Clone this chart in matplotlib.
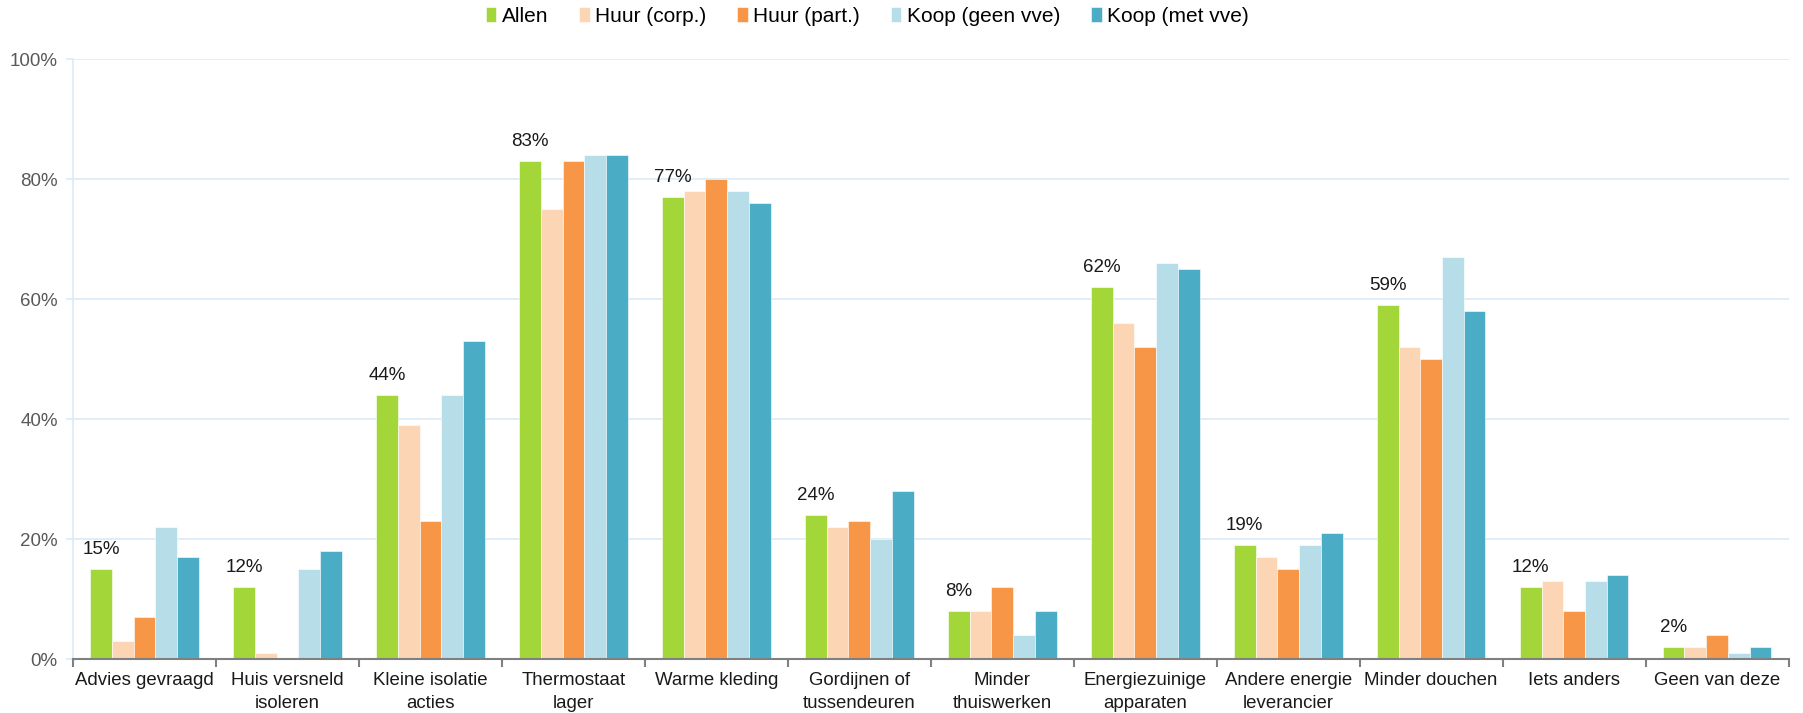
import matplotlib
matplotlib.use("Agg")
import matplotlib.pyplot as plt
import numpy as np

plt.rcParams['font.family'] = ['Liberation Sans', 'DejaVu Sans']

categories = ["Advies gevraagd", "Huis versneld\nisoleren", "Kleine isolatie\nacties",
              "Thermostaat\nlager", "Warme kleding", "Gordijnen of\ntussendeuren",
              "Minder\nthuiswerken", "Energiezuinige\napparaten", "Andere energie\nleverancier",
              "Minder douchen", "Iets anders", "Geen van deze"]
series_names = ["Allen", "Huur (corp.)", "Huur (part.)", "Koop (geen vve)", "Koop (met vve)"]
allen = [15, 12, 44, 83, 77, 24, 8, 62, 19, 59, 12, 2]
huur_corp = [3, 1, 39, 75, 78, 22, 8, 56, 17, 52, 13, 2]
huur_part = [7, 0, 23, 83, 80, 23, 12, 52, 15, 50, 8, 4]
koop_geen = [22, 15, 44, 84, 78, 20, 4, 66, 19, 67, 13, 1]
koop_met = [17, 18, 53, 84, 76, 28, 8, 65, 21, 58, 14, 2]
yticks = [0, 20, 40, 60, 80, 100]
ytick_labels = ["0%", "20%", "40%", "60%", "80%", "100%"]

colors = ["#A2D639", "#FCD5B5", "#F79646", "#B7DEE8", "#4BACC6"]
series = [allen, huur_corp, huur_part, koop_geen, koop_met]

fig = plt.figure(figsize=(18.03, 7.13), dpi=100)
ax = fig.add_axes([0.0405, 0.0757, 0.9515, 0.8415])

x = np.arange(len(categories))
w = 0.152
for i, (vals, c, name) in enumerate(zip(series, colors, series_names)):
    ax.bar(x + (i - 2) * w, vals, width=w, color=c, label=name, zorder=3,
           edgecolor='white', linewidth=0.4)

for xi, v in zip(x, allen):
    ax.annotate(f"{v}%", (xi - 2 * w, v), xytext=(0, 8), textcoords='offset points',
                ha='center', va='bottom', fontsize=13.5, color='#1a1a1a')

ax.set_xlim(-0.5, len(categories) - 0.5)
ax.set_ylim(0, 100)
ax.set_yticks(yticks)
ax.set_yticklabels(ytick_labels, fontsize=13.5, color='#595959')
ax.yaxis.grid(True, color='#DCEAF6', linewidth=1.2, zorder=0)
ax.set_axisbelow(True)

ax.set_xticks(x)
ax.set_xticklabels(categories, fontsize=13.4, color='#1a1a1a', linespacing=1.5)
ax.set_xticks(np.arange(-0.5, len(categories), 1.0), minor=True)
ax.tick_params(axis='x', which='major', length=0, pad=9)
ax.tick_params(axis='x', which='minor', length=6, color='#808080', width=1.5, direction='out')
ax.tick_params(axis='y', length=5, color='#DCEAF6', width=1.2, pad=6)

for s in ['top', 'right']:
    ax.spines[s].set_visible(False)
ax.spines['left'].set_color('#DCEAF6')
ax.spines['left'].set_linewidth(1.2)
ax.spines['bottom'].set_color('#808080')
ax.spines['bottom'].set_linewidth(1.5)
ax.spines['bottom'].set_zorder(4)

fig.legend(loc='center', bbox_to_anchor=(0.481, 0.977), ncol=5, frameon=False,
           fontsize=15, handlelength=0.5, handleheight=0.75, handletextpad=0.25,
           columnspacing=1.5)

fig.savefig("out.png", dpi=100)
